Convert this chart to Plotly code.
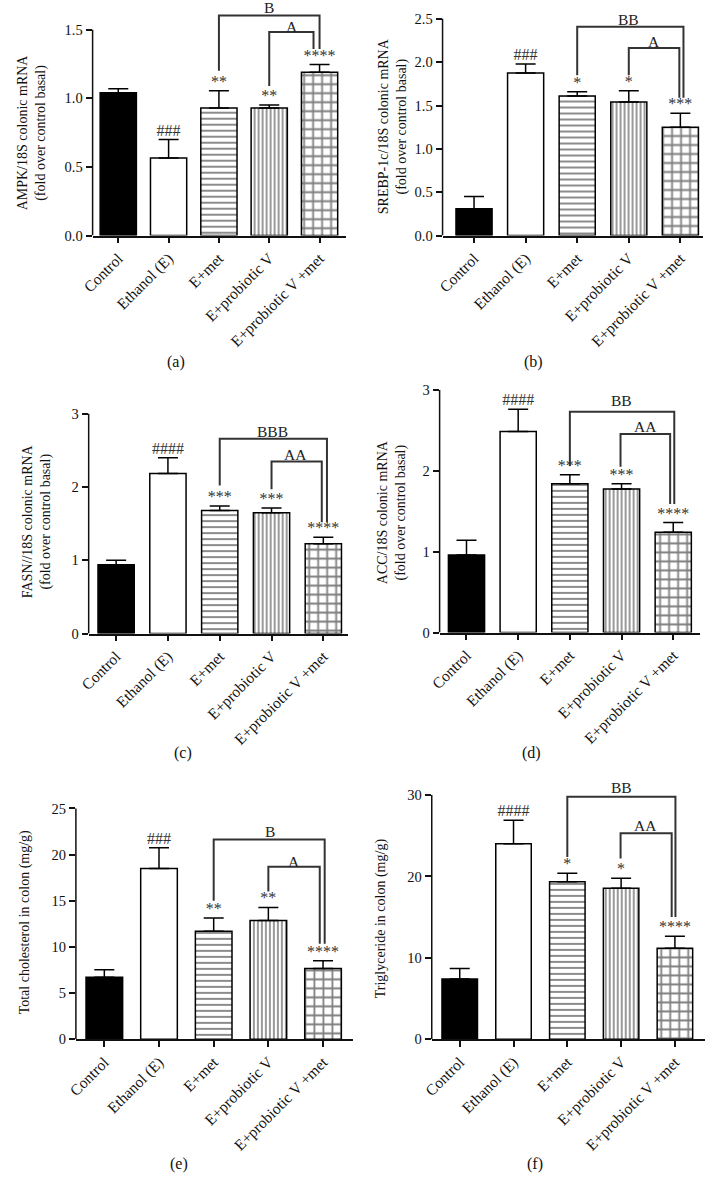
import plotly.graph_objects as go

W, H = 707, 1180
FONT = "Liberation Serif"

categories = ["Control", "Ethanol (E)", "E+met", "E+probiotic V", "E+probiotic V +met"]

ampk_mean = [1.04, 0.565, 0.93, 0.93, 1.19]
ampk_err = [0.03, 0.135, 0.125, 0.022, 0.056]
ampk_sig = ["", "###", "**", "**", "****"]
ampk_cmp = ["B", "A"]

srebp_mean = [0.31, 1.875, 1.61, 1.54, 1.25]
srebp_err = [0.14, 0.105, 0.05, 0.13, 0.16]
srebp_sig = ["", "###", "*", "*", "***"]
srebp_cmp = ["BB", "A"]

fasn_mean = [0.94, 2.185, 1.68, 1.65, 1.225]
fasn_err = [0.06, 0.215, 0.06, 0.065, 0.09]
fasn_sig = ["", "####", "***", "***", "****"]
fasn_cmp = ["BBB", "AA"]

acc_mean = [0.96, 2.485, 1.84, 1.775, 1.24]
acc_err = [0.18, 0.275, 0.11, 0.065, 0.12]
acc_sig = ["", "####", "***", "***", "****"]
acc_cmp = ["BB", "AA"]

tc_mean = [6.72, 18.5, 11.7, 12.86, 7.68]
tc_err = [0.81, 2.26, 1.45, 1.43, 0.82]
tc_sig = ["", "###", "**", "**", "****"]
tc_cmp = ["B", "A"]

tg_mean = [7.41, 24.0, 19.36, 18.55, 11.18]
tg_err = [1.3, 2.9, 1.02, 1.22, 1.49]
tg_sig = ["", "####", "*", "*", "****"]
tg_cmp = ["BB", "AA"]

titles = [
    "AMPK/18S colonic mRNA<br>(fold over control basal)",
    "SREBP-1c/18S colonic mRNA<br>(fold over control basal)",
    "FASN//18S colonic mRNA<br>(fold over control basal)",
    "ACC/18S colonic mRNA<br>(fold over control basal)",
    "Total cholesterol in colon (mg/g)",
    "Triglyceride in colon (mg/g)",
]
panel_letters = ["(a)", "(b)", "(c)", "(d)", "(e)", "(f)"]

# ---- geometry (pixel placement, styling) ----
geo = [
    dict(xl=82, xr=340, y0=234, ppu=138.7, ytop=1.66, xr_=[-0.51, 4.53], bw=0.72,
         ticks=[0, 0.5, 1.0, 1.5], fmt=".1f", tpos=(20, 130), lpos=(167, 362),
         br=[(2, 1.20, 1.603, 4.0, 1.36, 3.0, 1.665), (3, 1.09, 1.483, 3.88, 1.36, 3.45, 1.525)]),
    dict(xl=438, xr=703, y0=234, ppu=87.6, ytop=2.55, xr_=[-0.61, 4.44], bw=0.70,
         ticks=[0, 0.5, 1.0, 1.5, 2.0, 2.5], fmt=".1f", tpos=(387, 123), lpos=(530, 362),
         br=[(2, 1.85, 2.41, 4.06, 1.59, 3.0, 2.49), (3, 1.85, 2.165, 3.98, 1.59, 3.49, 2.235)]),
    dict(xl=78, xr=342, y0=636, ppu=74.0, ytop=3.05, xr_=[-0.53, 4.48], bw=0.70,
         ticks=[0, 1, 2, 3], fmt="d", tpos=(25, 523), lpos=(174, 757),
         br=[(2, 2.02, 2.66, 4.07, 1.52, 3.02, 2.76), (3, 1.97, 2.35, 3.97, 1.52, 3.46, 2.45)]),
    dict(xl=435, xr=700, y0=635, ppu=81.7, ytop=3.05, xr_=[-0.52, 4.52], bw=0.70,
         ticks=[0, 1, 2, 3], fmt="d", tpos=(386, 513), lpos=(528, 757),
         br=[(2, 2.06, 2.73, 4.02, 1.59, 3.0, 2.87), (2.98, 2.05, 2.455, 3.94, 1.59, 3.47, 2.55)]),
    dict(xl=65, xr=347, y0=1046, ppu=9.33, ytop=25.5, xr_=[-0.52, 4.55], bw=0.67,
         ticks=[0, 5, 10, 15, 20, 25], fmt="d", tpos=(13, 928), lpos=(170, 1172),
         br=[(2, 15.0, 21.65, 4.03, 10.36, 3.03, 22.5), (3, 16.0, 18.68, 3.94, 10.36, 3.47, 19.3)]),
    dict(xl=427, xr=705, y0=1046, ppu=8.23, ytop=30.5, xr_=[-0.52, 4.56], bw=0.66,
         ticks=[0, 10, 20, 30], fmt="d", tpos=(375, 924), lpos=(532, 1172),
         br=[(2, 22.4, 29.77, 4.01, 15.03, 3.0, 30.9), (2.99, 22.2, 25.3, 3.94, 15.03, 3.46, 26.2)]),
]

means = [ampk_mean, srebp_mean, fasn_mean, acc_mean, tc_mean, tg_mean]
errs = [ampk_err, srebp_err, fasn_err, acc_err, tc_err, tg_err]
sigs = [ampk_sig, srebp_sig, fasn_sig, acc_sig, tc_sig, tg_sig]
cmps = [ampk_cmp, srebp_cmp, fasn_cmp, acc_cmp, tc_cmp, tg_cmp]

# per-group styling
fill_color = ["black", "white", "white", "white", "white"]
pat_shape = ["", "", "-", "|", "+"]
pat_size = [6, 6, 6, 4, 9]
pat_sol = [0.2, 0.2, 0.3, 0.4, 0.36]

LINE = "#111"
fig = go.Figure()
layout = dict(
    width=W, height=H, margin=dict(l=0, r=0, t=0, b=0),
    paper_bgcolor="white", plot_bgcolor="white", showlegend=False,
    font=dict(family=FONT, color="#111", size=14),
)
shapes = []
annotations = []
xpos = list(range(len(categories)))


def py(g, v):
    return 1 - (g["y0"] - v * g["ppu"]) / H


for i, g in enumerate(geo):
    n = "" if i == 0 else str(i + 1)
    xid, yid = "x" + n, "y" + n
    top_px = g["y0"] - g["ytop"] * g["ppu"]
    layout["xaxis" + n] = dict(
        domain=[g["xl"] / W, g["xr"] / W], anchor=yid, range=g["xr_"],
        tickvals=xpos, ticktext=categories, tickangle=-45,
        showline=True, linecolor=LINE, linewidth=1.5, ticks="outside",
        ticklen=6, tickwidth=1.5, tickcolor=LINE, showgrid=False, zeroline=False,
        tickfont=dict(family=FONT, size=15.5, color="#111"), fixedrange=True,
    )
    layout["yaxis" + n] = dict(
        domain=[1 - g["y0"] / H, min(1.0, 1 - top_px / H)], anchor=xid, range=[0, g["ytop"]],
        tickvals=g["ticks"], tickformat=g["fmt"], showline=False, ticks="outside",
        ticklen=6, tickwidth=1.5, tickcolor=LINE, showgrid=False, zeroline=False,
        tickfont=dict(family=FONT, size=14.5, color="#111"), fixedrange=True,
    )
    for j in xpos:
        marker = dict(color=fill_color[j], line=dict(color="black", width=1.5))
        if pat_shape[j]:
            marker["pattern"] = dict(shape=pat_shape[j], size=pat_size[j], solidity=pat_sol[j],
                                     fgcolor="black", bgcolor=fill_color[j])
        fig.add_trace(go.Bar(
            x=[xpos[j]], y=[means[i][j]], width=g["bw"], xaxis=xid, yaxis=yid,
            marker=marker,
            error_y=dict(type="data", array=[errs[i][j]], arrayminus=[0], symmetric=False,
                         color="black", thickness=1.5, width=10),
        ))
    fig.add_trace(go.Scatter(
        x=xpos, y=[m + e for m, e in zip(means[i], errs[i])], xaxis=xid, yaxis=yid,
        mode="text", text=sigs[i], textposition="top center",
        textfont=dict(family=FONT, size=16, color="#333"), cliponaxis=False,
    ))
    # y axis line
    shapes.append(dict(type="line", xref=xid + " domain", yref=yid, x0=0, x1=0,
                       y0=0, y1=g["ticks"][-1], line=dict(color=LINE, width=1.5)))
    # comparison brackets
    for (xa, ya, yt, xb, yb, lx, ly), lab in zip(g["br"], cmps[i]):
        shapes.append(dict(type="path", xref=xid, yref=yid,
                           path=f"M {xa},{ya} L {xa},{yt} L {xb},{yt} L {xb},{yb}",
                           line=dict(color="#333", width=2)))
        annotations.append(dict(x=lx, y=py(g, ly), xref=xid, yref="paper", text=lab,
                                showarrow=False, font=dict(family=FONT, size=15.5, color="#222"),
                                xanchor="center", yanchor="middle"))
    # y-axis title
    annotations.append(dict(x=g["tpos"][0] / W, y=1 - g["tpos"][1] / H, xref="paper", yref="paper",
                            text=titles[i], textangle=-90, showarrow=False,
                            font=dict(family=FONT, size=14, color="#111"),
                            xanchor="center", yanchor="middle"))
    # panel letter
    annotations.append(dict(x=g["lpos"][0] / W, y=1 - g["lpos"][1] / H, xref="paper", yref="paper",
                            text=panel_letters[i], showarrow=False,
                            font=dict(family=FONT, size=16, color="#111"),
                            xanchor="center", yanchor="middle"))

layout["shapes"] = shapes
layout["annotations"] = annotations
layout["barmode"] = "overlay"
fig.update_layout(**layout)
fig.write_html("out.html", config={"displayModeBar": False},
               post_script="document.body.style.margin='0px';")
